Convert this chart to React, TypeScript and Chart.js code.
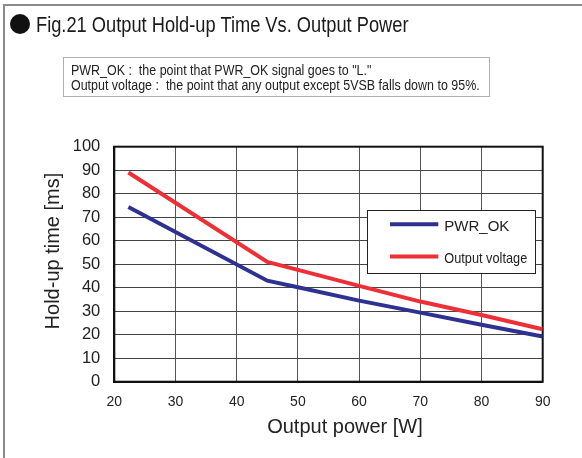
import React, { useEffect, useRef } from "react";
import { Chart, registerables } from "chart.js";

Chart.register(...registerables);

// ---- data ----
const powerW = [22.3, 45, 50, 60, 70, 80, 90];
const pwrOkMs = [74.3, 43, 40.2, 34.5, 29.4, 24.2, 19.2];
const outputVoltageMs = [89, 51, 47.6, 40.8, 34.1, 28.4, 22.3];
const seriesLabels = ["PWR_OK", "Output voltage"];
const seriesColors = ["#2e3192", "#ee2f35"];
const xTickValues = [20, 30, 40, 50, 60, 70, 80, 90];
const yTickValues = [0, 10, 20, 30, 40, 50, 60, 70, 80, 90, 100];
const titleText = "Fig.21 Output Hold-up Time Vs. Output Power";
const noteLines = [
  'PWR_OK :  the point that PWR_OK signal goes to "L."',
  "Output voltage :  the point that any output except 5VSB falls down to 95%.",
];
const xTitle = "Output power [W]";
const yTitle = "Hold-up time [ms]";
const legendTextScale = [1, 0.85];

const FONT = '"Liberation Sans", Arial, Helvetica, sans-serif';

const frameLegendTitles = {
  id: "frameLegendTitles",
  beforeDatasetsDraw(chart: any) {
    const { ctx, chartArea } = chart;
    ctx.save();
    ctx.strokeStyle = "#111";
    ctx.lineWidth = 2;
    ctx.strokeRect(chartArea.left, chartArea.top, chartArea.right - chartArea.left, chartArea.bottom - chartArea.top);
    ctx.restore();
  },
  afterDraw(chart: any) {
    const { ctx, chartArea } = chart;
    // axis titles
    ctx.save();
    ctx.fillStyle = "#222";
    ctx.textBaseline = "alphabetic";
    ctx.textAlign = "center";
    ctx.font = `20px ${FONT}`;
    const xc = chartArea.left + (chartArea.right - chartArea.left) * 0.5385;
    ctx.fillText(xTitle, xc, chartArea.bottom + 51.3);
    ctx.translate(58.5, chartArea.top + (chartArea.bottom - chartArea.top) * 0.444);
    ctx.rotate(-Math.PI / 2);
    ctx.fillText(yTitle, 0, 0);
    ctx.restore();

    // legend
    const w = 168;
    const h = 63;
    const left = Math.round(chartArea.right - 7.4 - w);
    const top = Math.round(chartArea.top + 63.7);
    ctx.save();
    ctx.fillStyle = "#fff";
    ctx.fillRect(left, top, w, h);
    ctx.strokeStyle = "#222";
    ctx.lineWidth = 1;
    ctx.strokeRect(left + 0.5, top + 0.5, w, h);
    chart.data.datasets.forEach((ds: any, i: number) => {
      const y = top + 14.3 + i * 32.3;
      ctx.strokeStyle = ds.borderColor;
      ctx.lineWidth = 4;
      ctx.beginPath();
      ctx.moveTo(left + 23, y);
      ctx.lineTo(left + 71.3, y);
      ctx.stroke();
      ctx.save();
      ctx.translate(left + 77.3, y + 6.3);
      ctx.scale(legendTextScale[i], 1);
      ctx.font = `15px ${FONT}`;
      ctx.fillStyle = "#222";
      ctx.textBaseline = "alphabetic";
      ctx.textAlign = "left";
      ctx.fillText(ds.label, 0, 0);
      ctx.restore();
    });
    ctx.restore();
  },
};

export default function App() {
  const ref = useRef<HTMLCanvasElement | null>(null);

  useEffect(() => {
    if (!ref.current) return;
    const chart = new Chart(ref.current, {
      type: "line",
      data: {
        datasets: [
          {
            label: seriesLabels[0],
            data: powerW.map((x, i) => ({ x, y: pwrOkMs[i] })),
            borderColor: seriesColors[0],
            backgroundColor: seriesColors[0],
            borderWidth: 4,
            pointRadius: 0,
            tension: 0,
          },
          {
            label: seriesLabels[1],
            data: powerW.map((x, i) => ({ x, y: outputVoltageMs[i] })),
            borderColor: seriesColors[1],
            backgroundColor: seriesColors[1],
            borderWidth: 4,
            pointRadius: 0,
            tension: 0,
          },
        ],
      },
      options: {
        animation: false,
        responsive: false,
        layout: { padding: { top: 146.7, right: 39.3, bottom: 0, left: 0 } },
        plugins: { legend: { display: false }, tooltip: { enabled: false } },
        scales: {
          x: {
            type: "linear",
            min: 20,
            max: 90,
            afterBuildTicks: (s: any) => {
              s.ticks = xTickValues.map((v) => ({ value: v }));
            },
            afterFit: (s: any) => {
              s.height = 76.3;
            },
            grid: { color: "#555", lineWidth: 1, drawTicks: false },
            border: { color: "#111", width: 2 },
            ticks: { padding: 12, color: "#222", font: { family: FONT, size: 14 }, maxRotation: 0, autoSkip: false },
            title: { display: false },
          },
          y: {
            type: "linear",
            min: 0,
            max: 100,
            afterBuildTicks: (s: any) => {
              s.ticks = yTickValues.map((v) => ({ value: v }));
            },
            afterFit: (s: any) => {
              s.width = 114.3;
            },
            grid: { color: "#444", lineWidth: 1, drawTicks: false },
            border: { color: "#111", width: 2 },
            ticks: { padding: 14, color: "#222", font: { family: FONT, size: 16.5 }, autoSkip: false },
            title: { display: false },
          },
        },
      },
      plugins: [frameLegendTitles],
    } as any);
    return () => chart.destroy();
  }, []);

  return (
    <div style={{ position: "absolute", left: 0, top: 0, width: 582, height: 458, background: "#fff", overflow: "hidden", fontFamily: FONT, color: "#222" }}>
      <canvas ref={ref} width={582} height={458} style={{ position: "absolute", left: 0, top: 0 }} />
      <div style={{ position: "absolute", left: 3, top: 4, width: 579, height: 2, background: "#8c8c8c" }} />
      <div style={{ position: "absolute", left: 3, top: 4, width: 2, height: 454, background: "#8c8c8c" }} />
      <div style={{ position: "absolute", left: 10, top: 14, width: 20, height: 20, borderRadius: "50%", background: "#111" }} />
      <div style={{ position: "absolute", left: 36, top: 14.4, fontSize: 22, lineHeight: "22px", whiteSpace: "nowrap", transform: "scaleX(0.83)", transformOrigin: "left center", color: "#1a1a1a" }}>
        {titleText}
      </div>
      <div style={{ position: "absolute", left: 62.5, top: 57, width: 427, height: 40, boxSizing: "border-box", border: "1px solid #aab0bc" }} />
      {noteLines.map((t, i) => (
        <div key={i} style={{ position: "absolute", left: 71, top: 62.7 + i * 15, fontSize: 14, lineHeight: "15px", whiteSpace: "pre", transform: "scaleX(0.89)", transformOrigin: "left center" }}>
          {t}
        </div>
      ))}
    </div>
  );
}
